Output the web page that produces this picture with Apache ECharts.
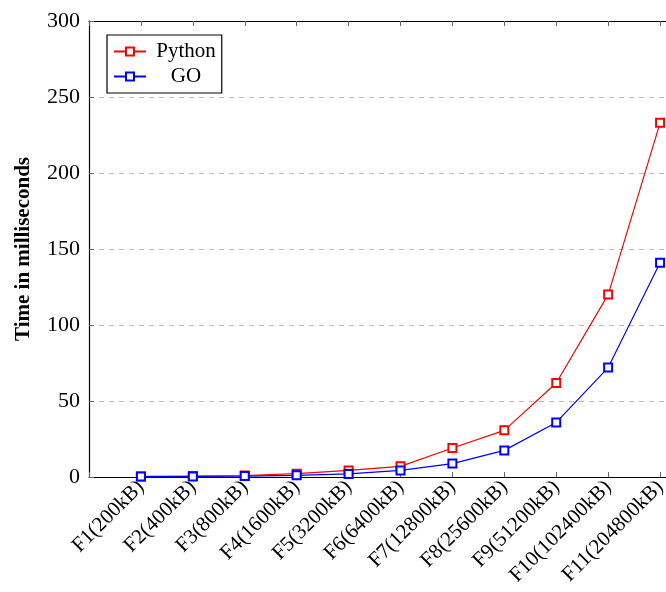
<!DOCTYPE html>
<html>
<head>
<meta charset="utf-8">
<script src="https://cdn.jsdelivr.net/npm/echarts@6/dist/echarts.min.js"></script>
<style>html,body{margin:0;padding:0;background:#fff}#c{width:666px;height:592px}</style>
</head>
<body>
<div id="c"></div>
<script>
const categories = ['F1(200kB)','F2(400kB)','F3(800kB)','F4(1600kB)','F5(3200kB)','F6(6400kB)','F7(12800kB)','F8(25600kB)','F9(51200kB)','F10(102400kB)','F11(204800kB)'];
const python = [0.4, 0.6, 1.0, 2.2, 4.3, 7.0, 19.1, 30.7, 61.8, 120, 233];
const go = [0.3, 0.4, 0.6, 1.1, 2.0, 4.3, 8.8, 17.5, 35.9, 72, 141];
const yTicks = [0, 50, 100, 150, 200, 250, 300];

const FONT = '"Liberation Serif", "DejaVu Serif", serif';
const toPairs = arr => arr.map((v, i) => [i + 1, v]);

const chart = echarts.init(document.getElementById('c'), null, {renderer: 'canvas'});
const xCommon = {
  type: 'value', min: 0, max: categories.length + 1, interval: 1,
  axisLine: {show: true, lineStyle: {color: '#000', width: 1.2}},
  axisTick: {show: true, inside: true, length: 5, lineStyle: {color: '#666'}},
  splitLine: {show: false}
};
chart.setOption({
  animation: false,
  backgroundColor: '#fff',
  grid: {left: 89, top: 21, width: 623, height: 456, outerBoundsMode: 'none', containLabel: false},
  legend: {
    orient: 'vertical', left: 107, top: 35,
    borderColor: '#000', borderWidth: 1.2, backgroundColor: '#fff',
    padding: [6, 6, 6, 6], itemGap: 4, itemWidth: 32, itemHeight: 10,
    formatter: n => '{a|' + n + '}',
    textStyle: {fontFamily: FONT, fontSize: 21, color: '#000',
      rich: {a: {fontFamily: FONT, fontSize: 21, color: '#000', width: 70, align: 'center'}}},
    data: ['Python', 'GO']
  },
  xAxis: [
    Object.assign({}, xCommon, {
      position: 'bottom',
      axisLabel: {
        rotate: 45, margin: 7, fontFamily: FONT, fontSize: 21, color: '#000',
        formatter: v => (v >= 1 && v <= categories.length) ? categories[v - 1] : ''
      }
    }),
    Object.assign({}, xCommon, {position: 'top', axisLabel: {show: false}})
  ],
  yAxis: {
    type: 'value', min: yTicks[0], max: yTicks[yTicks.length - 1], interval: 50,
    name: 'Time in milliseconds', nameLocation: 'middle', nameGap: 55,
    nameTextStyle: {fontFamily: FONT, fontSize: 21, fontWeight: 'bold', color: '#000'},
    axisLine: {show: true, lineStyle: {color: '#000', width: 1.2}},
    axisTick: {show: true, inside: true, length: 5, lineStyle: {color: '#666'}},
    axisLabel: {margin: 9, fontFamily: FONT, fontSize: 22, color: '#000'},
    splitLine: {show: true, lineStyle: {color: '#bbb', type: [5, 5], width: 1}}
  },
  series: [
    {name: 'Python', type: 'line', data: toPairs(python), color: '#ff0000',
     symbol: 'emptyRect', symbolSize: 8, lineStyle: {width: 1.2, color: '#ff0000'},
     itemStyle: {color: '#ff0000', borderColor: '#ff0000', borderWidth: 1.2}},
    {name: 'GO', type: 'line', data: toPairs(go), color: '#0000ff',
     symbol: 'emptyRect', symbolSize: 8, lineStyle: {width: 1.2, color: '#0000ff'},
     itemStyle: {color: '#0000ff', borderColor: '#0000ff', borderWidth: 1.2}}
  ]
});
</script>
</body>
</html>
